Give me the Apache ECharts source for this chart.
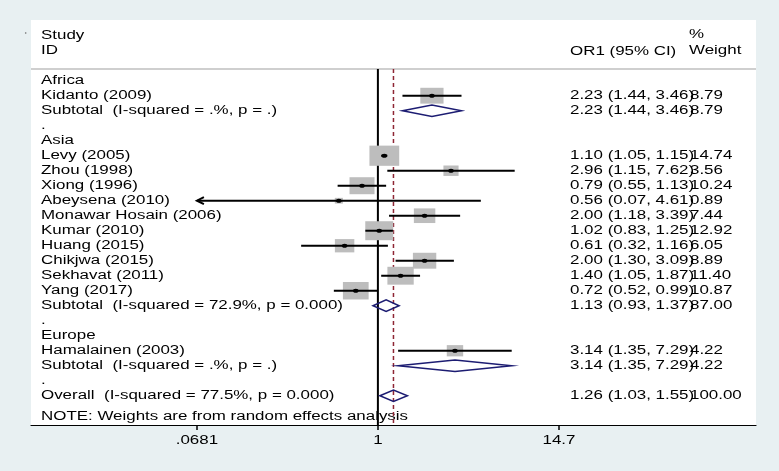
<!DOCTYPE html>
<html><head><meta charset="utf-8">
<script src="https://cdn.jsdelivr.net/npm/echarts@6/dist/echarts.min.js"></script>
<style>html,body{margin:0;padding:0;background:#e8f0f2}#c{width:779px;height:471px}</style>
</head><body><div id="c"></div>
<script>
// ---------------- data ----------------
const studyLabels = [
  'Africa',
  'Kidanto (2009)',
  'Subtotal  (I-squared = .%, p = .)',
  '.',
  'Asia',
  'Levy (2005)',
  'Zhou (1998)',
  'Xiong (1996)',
  'Abeysena (2010)',
  'Monawar Hosain (2006)',
  'Kumar (2010)',
  'Huang (2015)',
  'Chikjwa (2015)',
  'Sekhavat (2011)',
  'Yang (2017)',
  'Subtotal  (I-squared = 72.9%, p = 0.000)',
  '.',
  'Europe',
  'Hamalainen (2003)',
  'Subtotal  (I-squared = .%, p = .)',
  '.',
  'Overall  (I-squared = 77.5%, p = 0.000)'
];
const rowKinds = ['head','study','sub','blank','head','study','study','study','study','study','study','study','study','study','study','sub','blank','head','study','sub','blank','overall'];
const orValues = [null,2.23,2.23,null,null,1.10,2.96,0.79,0.56,2.00,1.02,0.61,2.00,1.40,0.72,1.13,null,null,3.14,3.14,null,1.26];
const ciLower  = [null,1.44,1.44,null,null,1.05,1.15,0.55,0.0681,1.18,0.83,0.32,1.30,1.05,0.52,0.93,null,null,1.35,1.35,null,1.03];
const ciUpper  = [null,3.46,3.46,null,null,1.15,7.62,1.13,4.61,3.39,1.25,1.16,3.09,1.87,0.99,1.37,null,null,7.29,7.29,null,1.55];
const weights  = [null,8.79,8.79,null,null,14.74,3.56,10.24,0.89,7.44,12.92,6.05,8.89,11.40,10.87,87.00,null,null,4.22,4.22,null,100.00];
const tickValues = [0.0681, 1, 14.7];
const tickLabels = ['.0681', '1', '14.7'];
const headerStudy = ['Study', 'ID'];
const headerCI = 'OR1 (95% CI)';
const headerWeight = ['%', 'Weight'];
const noteText = 'NOTE: Weights are from random effects analysis';
const nullValue = 1;

// ---------------- styling / layout ----------------
const FONT = '12px "Liberation Sans", Arial, sans-serif';
const SX = 1.41;
const COL_LABEL = 41, COL_CI = 570, COL_W = 690;
const NAVY = '#1c1c72';
const overallOr = orValues[rowKinds.indexOf('overall')];
const axisMinTick = Math.min(...tickValues);
const axisMaxTick = Math.max(...tickValues);

function txt(x, y, s, align) {
  return {type: 'text', x: x, y: y, scaleX: SX,
    style: {text: s, font: FONT, fill: '#000', textAlign: align || 'left', textVerticalAlign: 'middle'}};
}

const markData = [];
rowKinds.forEach((k, i) => {
  if (orValues[i] != null) markData.push([Math.log(orValues[i]), i, Math.log(ciLower[i]), Math.log(ciUpper[i]), weights[i]]);
});
const textData = studyLabels.map((s, i) => [0, i]);
const tickData = tickValues.map((v, j) => [Math.log(v), j]);

const chart = echarts.init(document.getElementById('c'));
chart.setOption({
  backgroundColor: '#e8f0f2',
  animation: false,
  grid: {left: 31, right: 23, top: 69, bottom: 46},
  xAxis: {
    type: 'value', min: Math.log(0.0058), max: Math.log(274),
    splitLine: {show: false},
    axisLine: {show: true, onZero: false, lineStyle: {color: '#000', width: 1.2}},
    axisTick: {show: true, length: 5, lineStyle: {color: '#000', width: 1.5}, customValues: tickValues.map(Math.log)},
    axisLabel: {show: false}
  },
  yAxis: {type: 'value', min: -0.78, max: 22.95, inverse: true, show: false},
  graphic: [
    {type: 'rect', z: -5, shape: {x: 31, y: 20, width: 725, height: 405}, style: {fill: '#fff'}},
    {type: 'line', z: 0, shape: {x1: 31, y1: 69, x2: 756, y2: 69}, style: {stroke: '#cfcfcf', lineWidth: 2}},
    {type: 'circle', z: 0, shape: {cx: 25.7, cy: 33, r: 0.8}, style: {fill: '#666'}},
    txt(COL_LABEL, 36, headerStudy[0]),
    txt(COL_LABEL, 51, headerStudy[1]),
    txt(COL_CI, 51.5, headerCI),
    txt(689, 35, headerWeight[0]),
    txt(689, 51, headerWeight[1]),
    txt(COL_LABEL, 417, noteText)
  ],
  series: [
    {
      type: 'custom', z: 1, silent: true,
      data: [[Math.log(nullValue), 0], [Math.log(overallOr), 1]],
      encode: {x: 0},
      renderItem: function (params, api) {
        const cs = params.coordSys;
        const x = api.coord([api.value(0), 0])[0];
        const dashed = api.value(1) === 1;
        return {type: 'line', shape: {x1: x, y1: cs.y, x2: x, y2: cs.y + cs.height},
          style: dashed ? {stroke: '#8e2634', lineWidth: 1.5, lineDash: [4, 3]} : {stroke: '#000', lineWidth: 2}};
      }
    },
    {
      type: 'custom', z: 3, silent: true,
      data: markData,
      encode: {x: [0, 2, 3], y: 1},
      renderItem: function (params, api) {
        const row = api.value(1);
        const kind = rowKinds[row];
        const c = api.coord([api.value(0), row]);
        const xl = api.coord([api.value(2), row])[0];
        const xh = api.coord([api.value(3), row])[0];
        const y = c[1];
        const ch = [];
        if (kind === 'study') {
          const s = Math.sqrt(api.value(4));
          const bw = 7.5 * s + 1, bh = 5 * s + 1;
          ch.push({type: 'rect', shape: {x: c[0] - bw / 2, y: y - bh / 2, width: bw, height: bh}, style: {fill: '#bdbdbd'}});
          ch.push({type: 'line', shape: {x1: xl, y1: y, x2: xh, y2: y}, style: {stroke: '#000', lineWidth: 2}});
          if (Math.exp(api.value(2)) <= axisMinTick + 1e-9) {
            ch.push({type: 'polyline', shape: {points: [[xl + 7, y - 3.5], [xl, y], [xl + 7, y + 3.5]]}, style: {stroke: '#000', lineWidth: 2, fill: null}});
          }
          if (Math.exp(api.value(3)) >= axisMaxTick - 1e-9) {
            ch.push({type: 'polyline', shape: {points: [[xh - 7, y - 3.5], [xh, y], [xh - 7, y + 3.5]]}, style: {stroke: '#000', lineWidth: 2, fill: null}});
          }
          ch.push({type: 'circle', x: c[0], y: y, scaleX: 1.4, shape: {cx: 0, cy: 0, r: 2}, style: {fill: '#000'}});
        } else {
          const h = 5.8;
          ch.push({type: 'polygon', shape: {points: [[xl, y], [c[0], y - h], [xh, y], [c[0], y + h]]},
            style: {stroke: NAVY, lineWidth: 1.5, fill: null}});
        }
        return {type: 'group', children: ch};
      }
    },
    {
      type: 'custom', z: 4, silent: true,
      data: textData,
      encode: {y: 1},
      renderItem: function (params, api) {
        const row = api.value(1);
        const y = api.coord([0, row])[1];
        const ch = [txt(COL_LABEL, y, studyLabels[row])];
        if (orValues[row] != null) {
          ch.push(txt(COL_CI, y, orValues[row].toFixed(2) + ' (' + ciLower[row].toFixed(2) + ', ' + ciUpper[row].toFixed(2) + ')'));
          ch.push(txt(COL_W, y, weights[row].toFixed(2)));
        }
        return {type: 'group', children: ch};
      }
    },
    {
      type: 'custom', z: 4, silent: true,
      data: tickData,
      encode: {x: 0},
      renderItem: function (params, api) {
        const cs = params.coordSys;
        const x = api.coord([api.value(0), 0])[0];
        return txt(x, cs.y + cs.height + 16, tickLabels[api.value(1)], 'center');
      }
    }
  ]
});
</script>
</body></html>
